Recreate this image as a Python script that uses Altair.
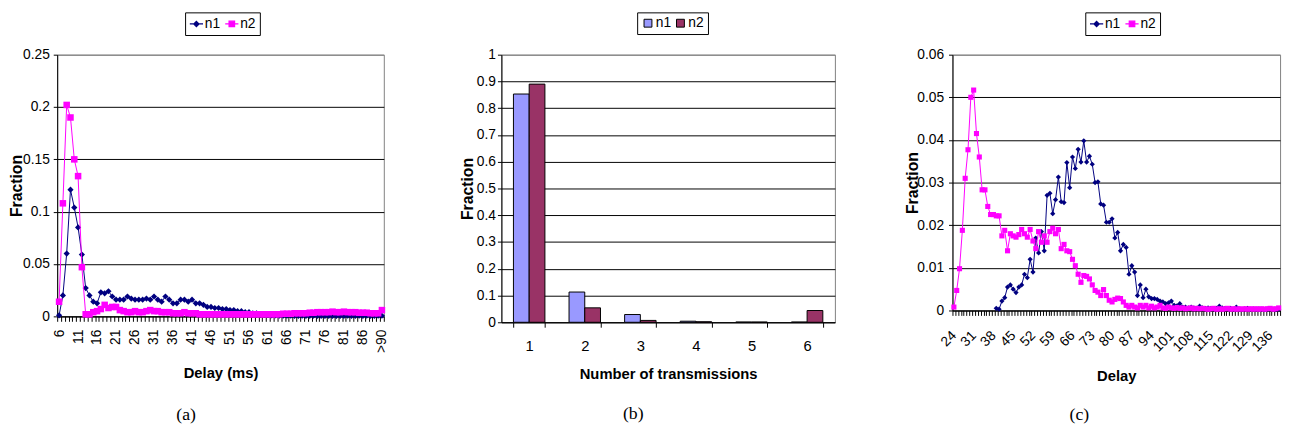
import altair as alt
import pandas as pd

FONT = "Liberation Sans Narrow, Liberation Sans, Arial, sans-serif"
BFONT = "Liberation Sans, Arial, sans-serif"
SERIF = "Liberation Serif, DejaVu Serif, serif"

# ---------------- Panel (a): delay distribution ----------------
delay_a = [str(d) for d in range(6, 91)] + [">90"]
label_a = delay_a[::5]
n1_a = [0.001, 0.020, 0.060, 0.121, 0.104, 0.085, 0.059, 0.027, 0.020, 0.014,
        0.0125, 0.023, 0.022, 0.024, 0.019, 0.016, 0.016, 0.016, 0.019, 0.017,
        0.016, 0.016, 0.016, 0.017, 0.016, 0.019, 0.016, 0.014, 0.019, 0.016,
        0.0125, 0.0125, 0.016, 0.016, 0.014, 0.016, 0.0125, 0.0125, 0.011, 0.009,
        0.009, 0.008, 0.008, 0.007, 0.007, 0.006, 0.006, 0.005, 0.005, 0.004,
        0.004, 0.003, 0.003, 0.002, 0.002, 0.0015, 0.001, 0.001, 0.0008, 0.0008,
        0.0006, 0.0006, 0.0005, 0.0005, 0.0006, 0.0005, 0.0005, 0.0006, 0.0005, 0.0005,
        0.0004, 0.0005, 0.0005, 0.0004, 0.0005, 0.0005, 0.0006, 0.0005, 0.0005, 0.0006,
        0.0005, 0.0006, 0.0005, 0.0005, 0.0006, 0.0006]
n2_a = [0.014, 0.108, 0.202, 0.190, 0.150, 0.134, 0.047, 0.002, 0.002, 0.004,
        0.005, 0.007, 0.011, 0.008, 0.009, 0.009, 0.006, 0.005, 0.004, 0.004,
        0.005, 0.004, 0.004, 0.005, 0.006, 0.005, 0.005, 0.004, 0.004, 0.004,
        0.003, 0.003, 0.003, 0.004, 0.003, 0.003, 0.003, 0.002, 0.002, 0.002,
        0.002, 0.002, 0.002, 0.002, 0.002, 0.002, 0.002, 0.002, 0.002, 0.002,
        0.002, 0.002, 0.002, 0.002, 0.002, 0.002, 0.002, 0.002, 0.002, 0.0025,
        0.0025, 0.0025, 0.003, 0.003, 0.003, 0.003, 0.0035, 0.0035, 0.004, 0.004,
        0.004, 0.004, 0.0045, 0.004, 0.004, 0.0045, 0.004, 0.004, 0.004, 0.0035,
        0.0035, 0.0035, 0.003, 0.003, 0.003, 0.006]
yticks_a = [0, 0.05, 0.1, 0.15, 0.2, 0.25]

# ---------------- Panel (b): number of transmissions ----------------
trans_b = ["1", "2", "3", "4", "5", "6"]
n1_b = [0.853, 0.113, 0.029, 0.004, 0.001, 0.001]
n2_b = [0.890, 0.054, 0.007, 0.002, 0.001, 0.044]
yticks_b = [0, 0.1, 0.2, 0.3, 0.4, 0.5, 0.6, 0.7, 0.8, 0.9, 1]

# ---------------- Panel (c): delay distribution ----------------
delay_c = [str(d) for d in range(24, 140)]
label_c = delay_c[::7]
n1_c = [None, None, None, None, None, None, None, None, None, None,
        None, None, None, None, None,
        0.0005, 0.0003, 0.0022, 0.003, 0.0055, 0.006, 0.005, 0.0042, 0.0055, 0.006,
        0.0085, 0.0077, 0.012, 0.009, 0.017, 0.0135, 0.0185, 0.014, 0.027, 0.0275,
        0.0227, 0.026, 0.0313, 0.0255, 0.0253, 0.0347, 0.0288, 0.036, 0.0333, 0.0378,
        0.0348, 0.0398, 0.0348, 0.0362, 0.0343, 0.030, 0.0302, 0.025, 0.0247, 0.0207,
        0.0207, 0.0215, 0.017, 0.0183, 0.014, 0.0155, 0.0148, 0.0085, 0.0105, 0.009,
        0.0035, 0.006, 0.003, 0.005, 0.0032, 0.0028, 0.0028, 0.0026, 0.0022, 0.002,
        0.0016, 0.0018, 0.0022, 0.0012, 0.0011, 0.0016, 0.0008, 0.0008, 0.0006, 0.0008,
        0.0006, 0.0005, 0.001, 0.0006, 0.0005, 0.0006, 0.0005, 0.0004, 0.0005, 0.001,
        0.0006, 0.0005, 0.0004, 0.0005, 0.0003, 0.0008, 0.0004, 0.0003, 0.0004, 0.0005,
        0.0003, 0.0004, 0.0003, 0.0004, 0.0003, 0.0002, 0.0003, 0.0004, 0.0003, 0.0002,
        0.0003]
n2_c = [0.0008, 0.0047, 0.0098, 0.0188, 0.031, 0.0377, 0.050, 0.0517, 0.0415, 0.036,
        0.0283, 0.0283, 0.0244, 0.0225, 0.0225, 0.0222, 0.0222, 0.0175, 0.0188, 0.014,
        0.018, 0.0175, 0.0172, 0.0178, 0.019, 0.018, 0.0172, 0.019, 0.0163, 0.0145,
        0.0185, 0.016, 0.0175, 0.016, 0.0185, 0.0193, 0.018, 0.019, 0.0145, 0.0155,
        0.014, 0.0138, 0.012, 0.0105, 0.0085, 0.0066, 0.0082, 0.008, 0.0074, 0.006,
        0.0047, 0.0043, 0.0035, 0.0049, 0.0035, 0.0024, 0.002, 0.0026, 0.0029, 0.0028,
        0.002, 0.0012, 0.0008, 0.0012, 0.0008, 0.0006, 0.0012, 0.0008, 0.0012, 0.0006,
        0.001, 0.0006, 0.0008, 0.0012, 0.0006, 0.0005, 0.0008, 0.0006, 0.0005, 0.0007,
        0.0005, 0.0006, 0.0004, 0.0005, 0.0006, 0.0004, 0.0005, 0.0004, 0.0005, 0.0004,
        0.0003, 0.0004, 0.0005, 0.0003, 0.0004, 0.0003, 0.0004, 0.0005, 0.0003, 0.0004,
        0.0003, 0.0004, 0.0003, 0.0004, 0.0003, 0.0004, 0.0003, 0.0004, 0.0003, 0.0004,
        0.0003, 0.0004, 0.0005, 0.0003, 0.0004, 0.0006]
yticks_c = [0, 0.01, 0.02, 0.03, 0.04, 0.05, 0.06]

SERIES = ["n1", "n2"]
LINE_COLORS = ["#000080", "#FF00FF"]
BAR_COLORS = ["#9999FF", "#993366"]


def long_df(cats, n1, n2):
    rows = []
    for c, a, b in zip(cats, n1, n2):
        rows.append({"cat": c, "series": "n1", "fraction": a})
        rows.append({"cat": c, "series": "n2", "fraction": b})
    return pd.DataFrame(rows)


SHAPE_EXPR = ("datum.value === 'n1' ? 'M-1,0H1M0,-0.4L0.4,0L0,0.4L-0.4,0Z' "
              ": 'M-1,0H1M-0.42,-0.42H0.42V0.42H-0.42Z'")
COLOR_EXPR = "datum.value === 'n1' ? '#000080' : '#FF00FF'"

LEG_Y = -43


def line_legend(lx, ly):
    return alt.Legend(
        title=None, orient="none", legendX=lx, legendY=ly, direction="horizontal",
        strokeColor="black", fillColor="white", padding=4, cornerRadius=0,
        labelFont=FONT, labelFontSize=14, labelColor="black", labelOffset=1,
        columnPadding=2, symbolSize=180, symbolStrokeWidth=1.2,
        symbolType={"expr": SHAPE_EXPR},
        symbolFillColor={"expr": COLOR_EXPR},
        symbolStrokeColor={"expr": COLOR_EXPR},
        symbolOpacity=1,
    )


def y_axis(values, ymax, title_x, label_padding):
    return alt.Axis(
        values=values, format="~g", labelFont=FONT, labelFontSize=14, labelColor="black",
        labelPadding=label_padding, tickSize=4, tickColor="black", domainColor="black",
        grid=True, gridWidth=1,
        gridColor={"condition": {"test": f"datum.value >= {ymax * 0.999}", "value": "#808080"},
                   "value": "black"},
        titleFont=BFONT, titleFontSize=16, titleFontWeight="bold", titleColor="black",
        titleX=title_x, titleBaseline="alphabetic",
    )


def caption_title(text, dx, offset):
    return alt.TitleParams(text, orient="bottom", anchor="middle", frame="group",
                           dx=dx, offset=offset, font=SERIF, fontSize=18,
                           fontWeight="normal", color="black")


def line_panel(cats, n1, n2, labels, ymax, yticks, width, height, sizes,
               leg_x, leg_y, x_title, x_title_y, y_title_x, y_label_pad,
               label_angle, label_padding, caption, cap_dx, cap_offset):
    df = long_df(cats, n1, n2)
    lab_list = "[" + ",".join("'%s'" % v for v in labels) + "]"
    label_expr = f"indexof({lab_list}, datum.value) >= 0 ? datum.label : ''"
    x = alt.X(
        "cat:N", sort=cats, title=x_title, bandPosition=0.5,
        scale=alt.Scale(type="band", paddingInner=0, paddingOuter=0),
        axis=alt.Axis(
            tickBand="extent", labelExpr=label_expr, labelAngle=label_angle,
            labelAlign="right", labelBaseline="middle", labelPadding=label_padding,
            labelOverlap=False, labelFont=FONT, labelFontSize=14, labelColor="black",
            tickColor="black", tickSize=5, domainColor="black", grid=False,
            titleFont=FONT, titleFontSize=15, titleFontWeight="bold", titleColor="black",
            titleY=x_title_y, titleBaseline="alphabetic",
        ),
    )
    y = alt.Y("fraction:Q", title="Fraction",
              scale=alt.Scale(domain=[0, ymax], nice=False, zero=True),
              axis=y_axis(yticks, ymax, y_title_x, y_label_pad))
    cscale = alt.Scale(domain=SERIES, range=LINE_COLORS)
    layers = []
    for s, shape, size in zip(SERIES, ["diamond", "square"], sizes):
        base = alt.Chart(df).transform_filter(alt.datum.series == s)
        layers.append(base.mark_line(strokeWidth=1).encode(
            x=x, y=y, color=alt.Color("series:N", scale=cscale, legend=line_legend(leg_x, leg_y))))
        layers.append(base.mark_point(filled=True, opacity=1, shape=shape, size=size).encode(
            x=x, y=y, color=alt.Color("series:N", scale=cscale, legend=None)))
    return alt.layer(*layers).properties(
        width=width, height=height, title=caption_title(caption, cap_dx, cap_offset))


pa = line_panel(delay_a, n1_a, n2_a, label_a, 0.25, yticks_a, 332, 266, [40, 44],
                130, LEG_Y, "Delay (ms)", 62.5, -36.3, 4,
                -90, 8, "(a)", -35, 25.5)

pc = line_panel(delay_c, n1_c, n2_c, label_c, 0.06, yticks_c, 333, 260, [28, 27],
                135, LEG_Y, "Delay", 71, -35.7, 5,
                -45, 18, "(c)", -37.5, 23.5)

# bar panel
df_b = long_df(trans_b, n1_b, n2_b)
pb = alt.Chart(df_b).mark_bar(stroke="black", strokeWidth=1).encode(
    x=alt.X("cat:N", sort=trans_b, title="Number of transmissions",
            scale=alt.Scale(paddingInner=0.434, paddingOuter=0.217),
            axis=alt.Axis(tickBand="extent", labelAngle=0, labelPadding=12,
                          labelFont=FONT, labelFontSize=15, labelColor="black",
                          tickColor="black", tickSize=5, domainColor="black", grid=False,
                          titleFont=FONT, titleFontSize=15, titleFontWeight="bold",
                          titleColor="black", titleY=57, titleBaseline="alphabetic")),
    xOffset=alt.XOffset("series:N", sort=SERIES),
    y=alt.Y("fraction:Q", title="Fraction",
            scale=alt.Scale(domain=[0, 1], nice=False, zero=True),
            axis=y_axis(yticks_b, 1, -29.3, 2)),
    color=alt.Color("series:N", scale=alt.Scale(domain=SERIES, range=BAR_COLORS),
                    legend=alt.Legend(
                        title=None, orient="none", legendX=138, legendY=LEG_Y,
                        direction="horizontal", strokeColor="black", fillColor="white",
                        padding=4, cornerRadius=0, labelFont=FONT, labelFontSize=14,
                        labelColor="black", labelOffset=1, columnPadding=2,
                        symbolType="square", symbolSize=64, symbolStrokeColor="black",
                        symbolStrokeWidth=1, symbolOpacity=1)),
).properties(
    width=339, height=272, title=caption_title("(b)", -35.5, 24.5),
)

chart = alt.hconcat(pa, pb, pc, spacing=119.5, bounds="flush").resolve_scale(
    color="independent"
).properties(
    padding={"left": 0, "top": 0, "right": 0, "bottom": 0}
).configure_view(stroke="#808080", strokeWidth=1).configure_axis(labelLimit=0)

chart.save("out.html", embed_options={"renderer": "svg", "actions": False})
